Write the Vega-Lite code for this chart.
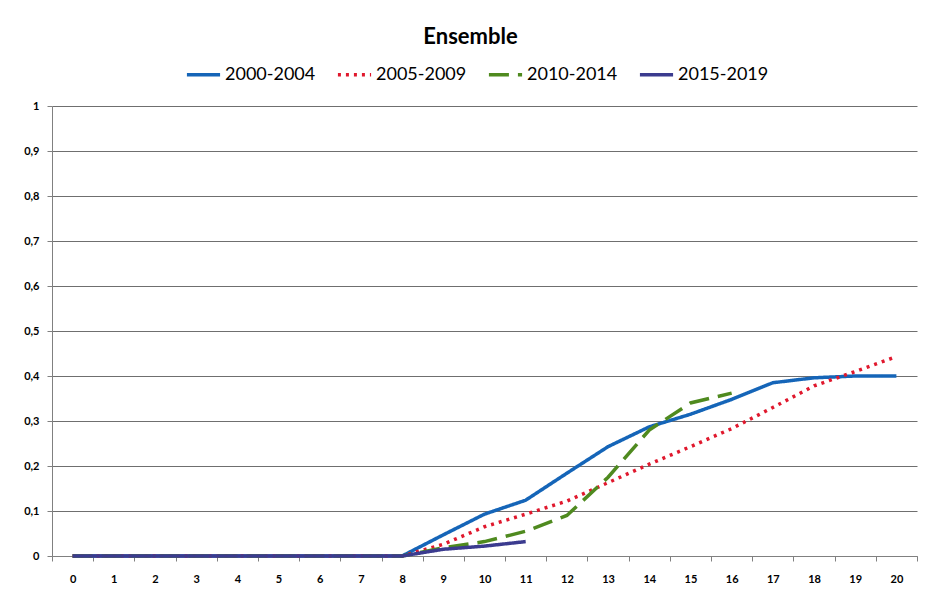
{
  "$schema": "https://vega.github.io/schema/vega-lite/v6.json",
  "width": 865,
  "height": 450,
  "autosize": "none",
  "padding": {"left": 52, "top": 106, "right": 8, "bottom": 45},
  "background": "white",
  "title": {"text": "Ensemble", "font": "Lato", "fontSize": 22, "fontWeight": "bold", "color": "#000000", "anchor": "middle", "offset": 7, "dx": -14},
  "data": {"values": [
    {"x":0,"v":0,"s":"2000-2004"},{"x":1,"v":0,"s":"2000-2004"},{"x":2,"v":0,"s":"2000-2004"},{"x":3,"v":0,"s":"2000-2004"},{"x":4,"v":0,"s":"2000-2004"},{"x":5,"v":0,"s":"2000-2004"},{"x":6,"v":0,"s":"2000-2004"},{"x":7,"v":0,"s":"2000-2004"},{"x":8,"v":0,"s":"2000-2004"},{"x":9,"v":0.047,"s":"2000-2004"},{"x":10,"v":0.093,"s":"2000-2004"},{"x":11,"v":0.124,"s":"2000-2004"},{"x":12,"v":0.184,"s":"2000-2004"},{"x":13,"v":0.243,"s":"2000-2004"},{"x":14,"v":0.287,"s":"2000-2004"},{"x":15,"v":0.315,"s":"2000-2004"},{"x":16,"v":0.348,"s":"2000-2004"},{"x":17,"v":0.385,"s":"2000-2004"},{"x":18,"v":0.396,"s":"2000-2004"},{"x":19,"v":0.4,"s":"2000-2004"},{"x":20,"v":0.4,"s":"2000-2004"},
    {"x":0,"v":0,"s":"2005-2009"},{"x":1,"v":0,"s":"2005-2009"},{"x":2,"v":0,"s":"2005-2009"},{"x":3,"v":0,"s":"2005-2009"},{"x":4,"v":0,"s":"2005-2009"},{"x":5,"v":0,"s":"2005-2009"},{"x":6,"v":0,"s":"2005-2009"},{"x":7,"v":0,"s":"2005-2009"},{"x":8,"v":0,"s":"2005-2009"},{"x":9,"v":0.026,"s":"2005-2009"},{"x":10,"v":0.065,"s":"2005-2009"},{"x":11,"v":0.093,"s":"2005-2009"},{"x":12,"v":0.122,"s":"2005-2009"},{"x":13,"v":0.163,"s":"2005-2009"},{"x":14,"v":0.204,"s":"2005-2009"},{"x":15,"v":0.243,"s":"2005-2009"},{"x":16,"v":0.283,"s":"2005-2009"},{"x":17,"v":0.33,"s":"2005-2009"},{"x":18,"v":0.378,"s":"2005-2009"},{"x":19,"v":0.41,"s":"2005-2009"},{"x":20,"v":0.443,"s":"2005-2009"},
    {"x":0,"v":0,"s":"2010-2014"},{"x":1,"v":0,"s":"2010-2014"},{"x":2,"v":0,"s":"2010-2014"},{"x":3,"v":0,"s":"2010-2014"},{"x":4,"v":0,"s":"2010-2014"},{"x":5,"v":0,"s":"2010-2014"},{"x":6,"v":0,"s":"2010-2014"},{"x":7,"v":0,"s":"2010-2014"},{"x":8,"v":0,"s":"2010-2014"},{"x":9,"v":0.018,"s":"2010-2014"},{"x":10,"v":0.032,"s":"2010-2014"},{"x":11,"v":0.055,"s":"2010-2014"},{"x":12,"v":0.09,"s":"2010-2014"},{"x":13,"v":0.175,"s":"2010-2014"},{"x":14,"v":0.28,"s":"2010-2014"},{"x":15,"v":0.34,"s":"2010-2014"},{"x":16,"v":0.362,"s":"2010-2014"},
    {"x":0,"v":0,"s":"2015-2019"},{"x":1,"v":0,"s":"2015-2019"},{"x":2,"v":0,"s":"2015-2019"},{"x":3,"v":0,"s":"2015-2019"},{"x":4,"v":0,"s":"2015-2019"},{"x":5,"v":0,"s":"2015-2019"},{"x":6,"v":0,"s":"2015-2019"},{"x":7,"v":0,"s":"2015-2019"},{"x":8,"v":0,"s":"2015-2019"},{"x":9,"v":0.015,"s":"2015-2019"},{"x":10,"v":0.022,"s":"2015-2019"},{"x":11,"v":0.032,"s":"2015-2019"}
  ]},
  "mark": {"type": "line", "strokeWidth": 3.5, "strokeCap": "butt"},
  "encoding": {
    "x": {"field": "x", "type": "ordinal", "scale": {"type": "band", "paddingInner": 0, "paddingOuter": 0}, "bandPosition": 0.5,
      "axis": {"title": null, "labelAngle": 0, "labelFont": "Lato", "labelFontSize": 11, "labelFontWeight": "bold", "labelColor": "#000000", "labelPadding": 12, "tickBand": "extent", "tickColor": "#808080", "tickSize": 5, "domainColor": "#808080", "grid": false}},
    "y": {"field": "v", "type": "quantitative", "scale": {"domain": [0, 1]},
      "axis": {"title": null, "values": [0,0.1,0.2,0.3,0.4,0.5,0.6,0.7,0.8,0.9,1], "labelExpr": "replace(format(datum.value, '.1~f'), '.', ',')", "labelFont": "Lato", "labelFontSize": 11, "labelFontWeight": "bold", "labelColor": "#000000", "labelPadding": 8, "tickColor": "#808080", "tickSize": 5, "domainColor": "#808080", "gridColor": "#6f6f6f", "gridWidth": 1}},
    "color": {"field": "s", "type": "nominal", "title": null,
      "scale": {"domain": ["2000-2004","2005-2009","2010-2014","2015-2019"], "range": ["#1565b8","#e0182d","#4f8a1f","#3b3b8f"]},
      "legend": {"orient": "none", "legendX": 133, "legendY": -50, "direction": "horizontal"}},
    "strokeDash": {"field": "s", "type": "nominal", "title": null,
      "scale": {"domain": ["2000-2004","2005-2009","2010-2014","2015-2019"], "range": [[1,0],[3,5],[20,9],[1,0]]},
      "legend": {"orient": "none", "legendX": 133, "legendY": -50, "direction": "horizontal"}}
  },
  "config": {
    "view": {"stroke": null},
    "legend": {"symbolType": "stroke", "symbolSize": 1100, "symbolStrokeWidth": 3.5, "labelFont": "Lato", "labelFontSize": 18, "labelColor": "#000000", "columnPadding": 14, "labelOffset": 3}
  }
}
